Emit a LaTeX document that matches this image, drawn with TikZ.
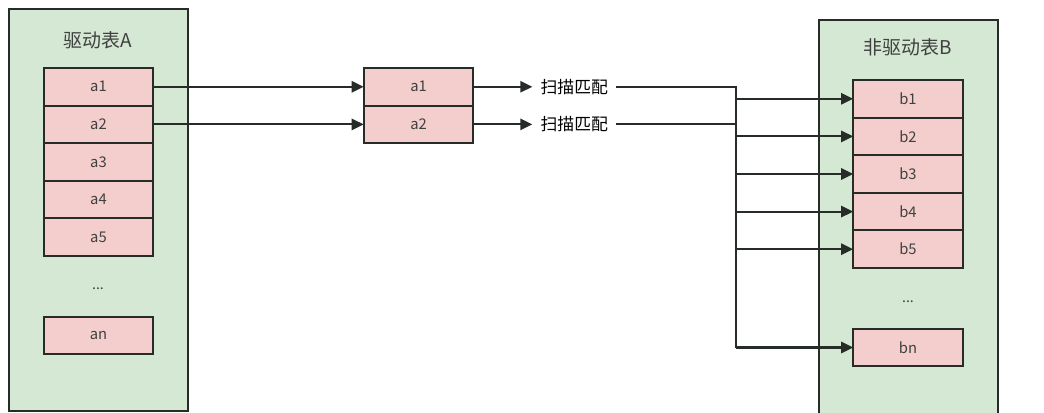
\documentclass[tikz,border=0pt]{standalone}
\usepackage{fontspec}
\setmainfont{Noto Sans CJK SC}
\usepackage{tikz}
\usetikzlibrary{arrows.meta, positioning}
\definecolor{tablegreen}{RGB}{213,232,212}
\definecolor{cellred}{RGB}{244,206,204}
\definecolor{linedark}{RGB}{40,44,40}
\definecolor{textgray}{RGB}{64,64,64}
\tikzset{
    table/.style={rectangle, draw=linedark, fill=tablegreen, line width=1.5pt,
                  outer sep=0pt, minimum width=44.75mm},
    cell/.style={rectangle, draw=linedark, fill=cellred, line width=1.5pt,
                 outer sep=0pt, minimum width=27.4mm, minimum height=9.4mm,
                 font=\fontsize{10.5}{12}\selectfont, text=textgray},
    title/.style={font=\fontsize{13.5}{15}\selectfont, text=textgray},
    dots/.style={font=\fontsize{10}{12}\selectfont, text=textgray},
    scan/.style={font=\fontsize{12}{14}\selectfont, text=black, inner sep=2mm},
    arrow/.style={-{Triangle[length=3mm,width=2.8mm]}, line width=1.5pt, color=linedark},
    wire/.style={line width=1.5pt, color=linedark}
}

\begin{document}
\begin{tikzpicture}[x=0.25mm, y=-0.25mm, node distance=0pt]
    \useasboundingbox (0,0) rectangle (1044,413);
    \clip (0,0) rectangle (1044,413);

    % driving table A
    \node[table, minimum height=100.5mm] (tabA) at (98.5,210) {};
    \node[title] (titleA) at (98,40) {驱动表A};
    \node[cell] (a1) at (98.5,86.8) {a1};
    \node[cell, below=of a1] (a2) {a2};
    \node[cell, below=of a2] (a3) {a3};
    \node[cell, below=of a3] (a4) {a4};
    \node[cell, below=of a4] (a5) {a5};
    \node[dots] (dotsA) at (98,289) {...};
    \node[cell] (an) at (98.5,335.5) {an};

    % non-driving table B
    \node[table, minimum height=105mm] (tabB) at (908.5,230) {};
    \node[title] (titleB) at (908,47) {非驱动表B};
    \node[cell] (b1) at (908,98.8) {b1};
    \node[cell, below=of b1] (b2) {b2};
    \node[cell, below=of b2] (b3) {b3};
    \node[cell, below=of b3] (b4) {b4};
    \node[cell, below=of b4] (b5) {b5};
    \node[dots] (dotsB) at (908,302) {...};
    \node[cell] (bn) at (908,347.5) {bn};

    % rows taken from A
    \node[cell] (m1) at (418.5,86.8) {a1};
    \node[cell, below=of m1] (m2) {a2};
    \node[scan, right=14.75mm of m1] (s1) {扫描匹配};
    \node[scan, right=14.75mm of m2] (s2) {扫描匹配};
    \coordinate (bus) at (736,347.5);

    \draw[arrow] (a1) -- (m1);
    \draw[arrow] (a2) -- (m2);
    \draw[arrow] (m1) -- (s1);
    \draw[arrow] (m2) -- (s2);
    \draw[wire] (s1.east) -| (bus);
    \draw[wire] (s2.east) -- (s2.east -| bus);
    \foreach \b in {b1,b2,b3,b4,b5,bn}
        \draw[arrow] (bus |- \b.west) -- (\b.west);
\end{tikzpicture}
\end{document}
